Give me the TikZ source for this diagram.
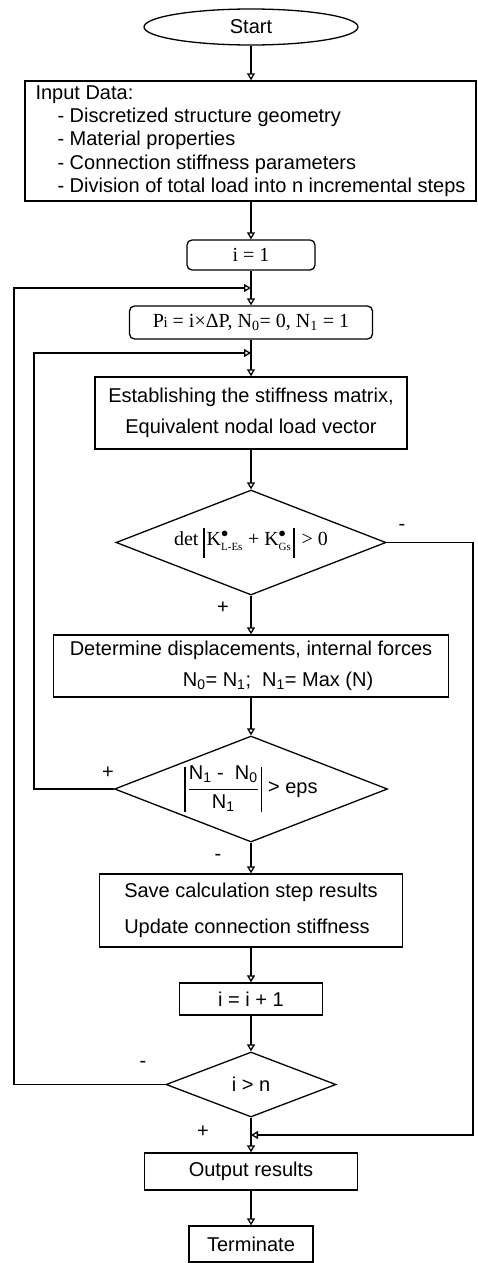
\documentclass[tikz,border=0pt]{standalone}
\usepackage{fontspec}
\setmainfont{Liberation Sans}
\newfontfamily\serifrm{Liberation Serif}
\usetikzlibrary{shapes.geometric,arrows.meta}

\tikzset{
  flow/.style={draw, line width=1.3pt, inner sep=0pt,
    font=\fontsize{20}{23.3}\selectfont},
  procbox/.style={flow, rectangle},
  roundbox/.style={flow, rectangle, rounded corners=5pt},
  decision/.style={flow, diamond},
  link/.style={line width=1.3pt, -{Triangle[open, length=7pt, width=8pt]}},
  sign/.style={inner sep=0pt, font=\fontsize{20}{20}\selectfont},
}

\newcommand{\detbar}{\rule[-12pt]{1.2pt}{30pt}}
\newcommand{\fracbar}{\rule[-18pt]{1.2pt}{45pt}}
\newcommand{\smallsub}[1]{\mbox{\fontsize{11}{11}\selectfont\serifrm #1}}

\begin{document}
\begin{tikzpicture}[x=1pt, y=-1pt]
\useasboundingbox (0,0) rectangle (477,1263);

% main column
\node[flow, ellipse, minimum width=214pt, minimum height=36pt] (start) at (251,27) {Start};

\node[procbox, minimum width=451pt, minimum height=120pt, align=left] (input) at (250.5,141)
  {Input Data:\\\hspace*{22pt}- Discretized structure geometry\\\hspace*{22pt}- Material properties\\\hspace*{22pt}- Connection stiffness parameters\\\hspace*{22pt}- Division of total load into n incremental steps};

\node[roundbox, minimum width=128pt, minimum height=30pt, font=\serifrm\fontsize{20}{20}\selectfont] (i1) at (251,255) {i = 1};

\node[roundbox, minimum width=243pt, minimum height=33pt, font=\serifrm\fontsize{20}{20}\selectfont] (pi) at (251,322.5)
  {P\kern-0.5pt{\fontsize{15}{15}\selectfont i} = i×ΔP, N\textsubscript{0}= 0, N\textsubscript{1} = 1};

\node[procbox, minimum width=312pt, minimum height=72pt, align=center, font=\fontsize{20}{31}\selectfont] (estab) at (251,413)
  {Establishing the stiffness matrix,\\Equivalent nodal load vector};

\node[decision, minimum width=270pt, minimum height=105pt, shape aspect=2.57, font=\serifrm\fontsize{20}{20}\selectfont] (dia1) at (251,542.5)
  {det\hspace{5pt}\detbar\hspace{2pt}K$^{\bullet}_{\smallsub{L-Es}}$ + K$^{\bullet}_{\smallsub{Gs}}$\hspace{2pt}\detbar\hspace{7pt}> 0};

\node[procbox, minimum width=395pt, minimum height=62pt, align=left, font=\fontsize{20}{31}\selectfont] (det) at (251,666)
  {Determine displacements, internal forces\\\hspace*{113pt}N\textsubscript{0}= N\textsubscript{1};\ \ N\textsubscript{1}= Max (N)};

\node[decision, minimum width=273pt, minimum height=106pt, shape aspect=2.58] (dia2) at (251,789)
  {\fracbar\hspace{2pt}$\displaystyle\frac{\mbox{N\textsubscript{1} -\ \ N\textsubscript{0}}}{\mbox{N\textsubscript{1}}}$\hspace{2pt}\fracbar\hspace{6pt}> eps};

\node[procbox, minimum width=303pt, minimum height=73pt, align=left, font=\fontsize{20}{36}\selectfont] (save) at (251,910.5)
  {Save calculation step results\\Update connection stiffness};

\node[procbox, minimum width=143pt, minimum height=32pt] (ip1) at (251,999) {i = i + 1};

\node[decision, minimum width=170pt, minimum height=65pt, shape aspect=2.6] (dia3) at (251,1084.5) {i > n};

\node[procbox, minimum width=213pt, minimum height=37pt] (output) at (251,1171.5) {Output results};

\node[procbox, minimum width=124pt, minimum height=36pt] (term) at (251,1244) {Terminate};

% junction points and loop corners
\coordinate (j1) at (251,288);
\coordinate (j2) at (251,353);
\coordinate (j3) at (251,1135);
\coordinate (outerc) at (14,288);
\coordinate (innerc) at (34,353);
\coordinate (rightc) at (473,1135);

% straight flow
\draw[link] (start) -- (start |- input.north);
\draw[link] (start |- input.south) -- (i1);
\draw[link] (i1) -- (pi);
\draw[link] (pi) -- (estab);
\draw[link] (estab) -- (dia1);
\draw[link] (dia1) -- (det);
\draw[link] (det) -- (dia2);
\draw[link] (dia2) -- (save);
\draw[link] (save) -- (ip1);
\draw[link] (ip1) -- (dia3);
\draw[link] (dia3) -- (output);
\draw[link] (output) -- (term);

% feedback and bypass lines
\draw[link] (dia3.west) -| (outerc) -- (j1);
\draw[link] (dia2.west) -| (innerc) -- (j2);
\draw[link] (dia1.east) -| (rightc) -- (j3);

% branch signs
\node[sign] (m1) at (402,527) {-};
\node[sign] (p1) at (223,608) {+};
\node[sign] (p2) at (108,773) {+};
\node[sign] (m2) at (218,857) {-};
\node[sign] (m3) at (143,1064) {-};
\node[sign] (p3) at (203,1132) {+};
\end{tikzpicture}
\end{document}
